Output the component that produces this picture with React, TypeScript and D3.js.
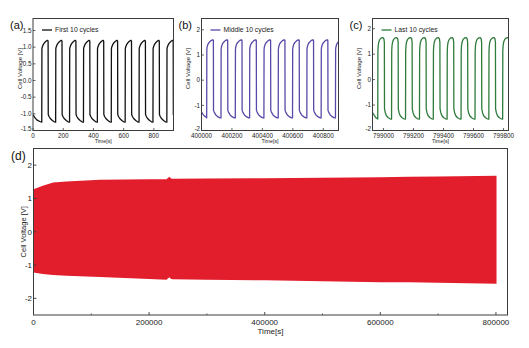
import React from 'react';
import * as d3 from 'd3';

const W = 529;
const H = 348;

// ---------- Panel (a): first 10 cycles ----------
const aRiseTimes = [58, 150, 242, 334, 426, 518, 610, 702, 794, 886];
const aCycleDt = [0, 1, 3, 8, 16, 26, 35, 40, 42, 43, 48, 58, 70, 82, 92];
const aCycleV = [-1.25, 0.95, 1.0, 1.06, 1.12, 1.17, 1.2, 1.2, 1.18, -1.02, -1.08, -1.15, -1.2, -1.24, -1.25];
const aLeadT = [0, 10, 25, 45, 58];
const aLeadV = [-1.02, -1.1, -1.18, -1.23, -1.25];
const aXTicks = [0, 200, 400, 600, 800];
const aYTicks = [-1.5, -1.0, -0.5, 0.0, 0.5, 1.0, 1.5];

// ---------- Panel (b): middle 10 cycles ----------
const bRiseTimes = [400034, 400128, 400222, 400316, 400410, 400504, 400598, 400692, 400786, 400880];
const bCycleDt = [0, 1, 3, 8, 16, 28, 38, 42, 44, 45, 50, 60, 75, 88, 94];
const bCycleV = [-1.5, 1.22, 1.32, 1.42, 1.5, 1.57, 1.6, 1.6, 1.58, -1.2, -1.28, -1.38, -1.46, -1.5, -1.5];
const bLeadT = [400000, 400010, 400020, 400034];
const bLeadV = [-1.27, -1.36, -1.43, -1.48];
const bXTicks = [400000, 400200, 400400, 400600, 400800];
const bYTicks = [-2, -1, 0, 1, 2];

// ---------- Panel (c): last 10 cycles ----------
const cRiseTimes = [798962, 799054, 799147, 799240, 799332, 799424, 799517, 799610, 799702, 799794];
const cCycleDt = [0, 1, 3, 7, 14, 25, 35, 41, 44, 45, 50, 58, 70, 82, 92];
const cCycleV = [-1.55, 1.1, 1.33, 1.48, 1.58, 1.64, 1.65, 1.6, 1.45, -1.15, -1.3, -1.42, -1.5, -1.54, -1.55];
const cLeadT = [798927, 798940, 798950, 798962];
const cLeadV = [-1.3, -1.42, -1.5, -1.55];
const cXTicks = [799000, 799200, 799400, 799600, 799800];
const cYTicks = [-2, -1, 0, 1, 2];

// ---------- Panel (d): whole test (envelope of the dense oscillation) ----------
const dT = [0, 16000, 34000, 57000, 115000, 200000, 230000, 235000, 238000, 241000, 300000, 400000, 500000, 600000, 650000, 700000, 801000];
const dUpper = [1.28, 1.38, 1.48, 1.51, 1.56, 1.58, 1.58, 1.65, 1.6, 1.59, 1.6, 1.61, 1.62, 1.64, 1.65, 1.66, 1.68];
const dLower = [-1.22, -1.27, -1.3, -1.32, -1.36, -1.42, -1.44, -1.37, -1.42, -1.43, -1.44, -1.46, -1.49, -1.52, -1.52, -1.53, -1.56];
const dXTicks = [0, 200000, 400000, 600000, 800000];
const dXMinor = [100000, 300000, 500000, 700000];
const dYTicks = [-2, -1, 0, 1, 2];

const FONT = 'Liberation Sans, Arial, sans-serif';
const FRAME = '#3c3c3c';

type Box = { x0: number; x1: number; y0: number; y1: number };

function buildSeries(leadT: number[], leadV: number[], rises: number[], dts: number[], vs: number[]) {
  const pts: [number, number][] = leadT.map((t, i) => [t, leadV[i]]);
  rises.forEach((r) => {
    dts.forEach((dt, i) => pts.push([r + dt, vs[i]]));
  });
  return pts;
}

function SmallPanel(props: {
  id: string;
  box: Box;
  xDomain: [number, number];
  yDomain: [number, number];
  xTicks: number[];
  yTicks: number[];
  yFmt: (v: number) => string;
  pts: [number, number][];
  color: string;
  tag: string;
  legend: string;
}) {
  const { id, box, xDomain, yDomain, xTicks, yTicks, yFmt, pts, color, tag, legend } = props;
  const x = d3.scaleLinear().domain(xDomain).range([box.x0, box.x1]);
  const y = d3.scaleLinear().domain(yDomain).range([box.y1, box.y0]);
  const line = d3
    .line<[number, number]>()
    .x((d) => x(d[0]))
    .y((d) => y(d[1]));
  const cy = (box.y0 + box.y1) / 2;
  const cx = (box.x0 + box.x1) / 2;
  return (
    <g>
      <defs>
        <clipPath id={id}>
          <rect x={box.x0} y={box.y0} width={box.x1 - box.x0} height={box.y1 - box.y0} />
        </clipPath>
      </defs>
      <path d={line(pts) || ''} fill="none" stroke={color} strokeWidth={1.3} strokeLinejoin="round" clipPath={`url(#${id})`} />
      <rect x={box.x0} y={box.y0} width={box.x1 - box.x0} height={box.y1 - box.y0} fill="none" stroke={FRAME} strokeWidth={1} />
      {xTicks.map((t) => (
        <g key={'x' + t}>
          <line x1={x(t)} x2={x(t)} y1={box.y1} y2={box.y1 - 2.5} stroke={FRAME} strokeWidth={0.8} />
          <text x={x(t)} y={box.y1 + 7} fontSize={6.3} fontFamily={FONT} textAnchor="middle" fill="#222">
            {t}
          </text>
        </g>
      ))}
      {yTicks.map((t, i) => (
        <g key={'y' + t}>
          <line x1={box.x0} x2={box.x0 + 2.5} y1={y(t)} y2={y(t)} stroke={FRAME} strokeWidth={0.8} />
          <text
            x={box.x0 - 1.5}
            y={y(t) + (i === 0 ? 0.5 : 2.2)}
            fontSize={6.3}
            fontFamily={FONT}
            textAnchor="end"
            fill="#222"
          >
            {yFmt(t)}
          </text>
        </g>
      ))}
      <text x={cx} y={box.y1 + 12.5} fontSize={5.3} fontFamily={FONT} textAnchor="middle" fill="#222">
        Time[s]
      </text>
      <text
        transform={`translate(${box.x0 - 11.5},${cy - 6}) rotate(-90)`}
        fontSize={6}
        fontFamily={FONT}
        textAnchor="middle"
        fill="#222"
      >
        Cell Voltage [V]
      </text>
      <text x={box.x0 - 23} y={box.y0 + 10} fontSize={11} fontFamily={FONT} fill="#111">
        {tag}
      </text>
      <line x1={box.x0 + 9} x2={box.x0 + 19} y1={box.y0 + 11.5} y2={box.y0 + 11.5} stroke={color} strokeWidth={1.3} />
      <text x={box.x0 + 22} y={box.y0 + 13.8} fontSize={6.8} fontFamily={FONT} fill="#222">
        {legend}
      </text>
    </g>
  );
}

function BigPanel({ box }: { box: Box }) {
  const x = d3.scaleLinear().domain([0, 820000]).range([box.x0, box.x1]);
  const y = d3.scaleLinear().domain([-2.5, 2.5]).range([box.y1, box.y0]);
  const rows = dT.map((t, i) => ({ t, u: dUpper[i], l: dLower[i] }));
  const area = d3
    .area<{ t: number; u: number; l: number }>()
    .x((d) => x(d.t))
    .y0((d) => y(d.l))
    .y1((d) => y(d.u));
  return (
    <g>
      <path d={area(rows) || ''} fill="#e31e2c" />
      <rect x={box.x0} y={box.y0} width={box.x1 - box.x0} height={box.y1 - box.y0} fill="none" stroke={FRAME} strokeWidth={1} />
      {dXTicks.map((t) => (
        <g key={'x' + t}>
          <line x1={x(t)} x2={x(t)} y1={box.y1} y2={box.y1 - 3} stroke={FRAME} strokeWidth={0.9} />
          <text x={x(t)} y={box.y1 + 10} fontSize={8} fontFamily={FONT} textAnchor="middle" fill="#222">
            {t}
          </text>
        </g>
      ))}
      {dXMinor.map((t) => (
        <line key={'m' + t} x1={x(t)} x2={x(t)} y1={box.y1} y2={box.y1 - 1.5} stroke={FRAME} strokeWidth={0.8} />
      ))}
      {dYTicks.map((t) => (
        <g key={'y' + t}>
          <line x1={box.x0} x2={box.x0 + 3} y1={y(t)} y2={y(t)} stroke={FRAME} strokeWidth={0.9} />
          <text x={box.x0 - 1.5} y={y(t) + 2.8} fontSize={8} fontFamily={FONT} textAnchor="end" fill="#222">
            {t}
          </text>
        </g>
      ))}
      <text x={(box.x0 + box.x1) / 2} y={box.y1 + 19} fontSize={8} fontFamily={FONT} textAnchor="middle" fill="#222">
        Time[s]
      </text>
      <text
        transform={`translate(${box.x0 - 8},${(box.y0 + box.y1) / 2}) rotate(-90)`}
        fontSize={7.5}
        fontFamily={FONT}
        textAnchor="middle"
        fill="#222"
      >
        Cell Voltage [V]
      </text>
      <text x={box.x0 - 22.5} y={box.y0 + 11.5} fontSize={12} fontFamily={FONT} fill="#111">
        (d)
      </text>
    </g>
  );
}

export default function App() {
  const aPts = buildSeries(aLeadT, aLeadV, aRiseTimes, aCycleDt, aCycleV);
  const bPts = buildSeries(bLeadT, bLeadV, bRiseTimes, bCycleDt, bCycleV);
  const cPts = buildSeries(cLeadT, cLeadV, cRiseTimes, cCycleDt, cCycleV);
  return (
    <svg
      width={W}
      height={H}
      viewBox={`0 0 ${W} ${H}`}
      style={{ position: 'absolute', left: 0, top: 0, background: '#fff' }}
    >
      <rect x={0} y={0} width={W} height={H} fill="#fff" />
      <SmallPanel
        id="clipA"
        box={{ x0: 33, x1: 173.5, y0: 18.5, y1: 130.5 }}
        xDomain={[0, 930]}
        yDomain={[-1.5, 1.86]}
        xTicks={aXTicks}
        yTicks={aYTicks}
        yFmt={(v) => d3.format('.1f')(v).replace('−', '-')}
        pts={aPts}
        color="#111111"
        tag="(a)"
        legend="First 10 cycles"
      />
      <SmallPanel
        id="clipB"
        box={{ x0: 201.5, x1: 338.5, y0: 18.5, y1: 130.5 }}
        xDomain={[400000, 400900]}
        yDomain={[-2, 2.45]}
        xTicks={bXTicks}
        yTicks={bYTicks}
        yFmt={(v) => String(v)}
        pts={bPts}
        color="#5a48a8"
        tag="(b)"
        legend="Middle 10 cycles"
      />
      <SmallPanel
        id="clipC"
        box={{ x0: 372.5, x1: 508.5, y0: 18.5, y1: 130.5 }}
        xDomain={[798927, 799833]}
        yDomain={[-2, 2.4]}
        xTicks={cXTicks}
        yTicks={cYTicks}
        yFmt={(v) => String(v)}
        pts={cPts}
        color="#2e7b3b"
        tag="(c)"
        legend="Last 10 cycles"
      />
      <BigPanel box={{ x0: 33.5, x1: 507.5, y0: 148.5, y1: 315 }} />
    </svg>
  );
}
